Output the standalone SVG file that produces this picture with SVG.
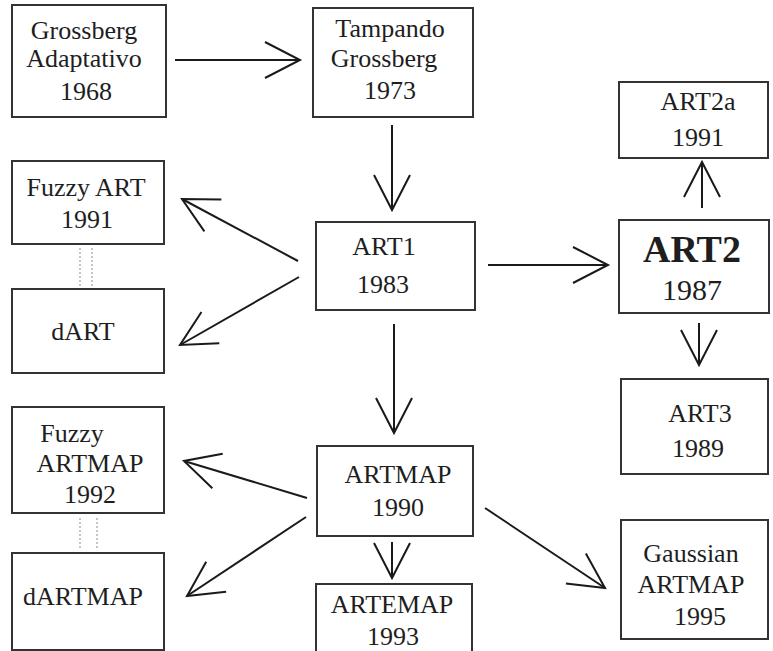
<svg xmlns="http://www.w3.org/2000/svg" width="773" height="651" viewBox="0 0 773 651">
  <defs>
    <!-- open V arrowhead -->
    <marker id="chevron" markerUnits="userSpaceOnUse" markerWidth="44" markerHeight="44" viewBox="-40 -22 44 44" refX="0" refY="0" orient="auto" overflow="visible">
      <path d="M-35,-18 L0,0 L-35,18" fill="none" stroke="#1a1a1a" stroke-width="2" stroke-linejoin="miter"/>
    </marker>
  </defs>
  <rect width="773" height="651" fill="#ffffff"/>

  <!-- nodes -->
  <g id="nodes" fill="#ffffff" stroke="#333333" stroke-width="2">
  <g id="grossberg-adaptativo">
    <rect x="12" y="5" width="154" height="112"/>
    <text stroke="none" fill="#1e1e1e" text-anchor="middle" font-family="Liberation Serif" font-size="26" x="84" y="39">Grossberg</text>
    <text stroke="none" fill="#1e1e1e" text-anchor="middle" font-family="Liberation Serif" font-size="26" x="84" y="67">Adaptativo</text>
    <text stroke="none" fill="#1e1e1e" text-anchor="middle" font-family="Liberation Serif" font-size="26" x="86" y="100">1968</text>
  </g>
  <g id="tampando-grossberg">
    <rect x="313" y="8" width="160" height="109"/>
    <text stroke="none" fill="#1e1e1e" text-anchor="middle" font-family="Liberation Serif" font-size="26" x="390" y="37">Tampando</text>
    <text stroke="none" fill="#1e1e1e" text-anchor="middle" font-family="Liberation Serif" font-size="26" x="384" y="67">Grossberg</text>
    <text stroke="none" fill="#1e1e1e" text-anchor="middle" font-family="Liberation Serif" font-size="26" x="390" y="99">1973</text>
  </g>
  <g id="art1">
    <rect x="316" y="222" width="159" height="88"/>
    <text stroke="none" fill="#1e1e1e" text-anchor="middle" font-family="Liberation Serif" font-size="26" x="384" y="255">ART1</text>
    <text stroke="none" fill="#1e1e1e" text-anchor="middle" font-family="Liberation Serif" font-size="26" x="383" y="293">1983</text>
  </g>
  <g id="art2a">
    <rect x="619" y="82" width="149" height="76"/>
    <text stroke="none" fill="#1e1e1e" text-anchor="middle" font-family="Liberation Serif" font-size="26" x="698" y="110">ART2a</text>
    <text stroke="none" fill="#1e1e1e" text-anchor="middle" font-family="Liberation Serif" font-size="26" x="698" y="146">1991</text>
  </g>
  <g id="art2">
    <rect x="619" y="220" width="150" height="93"/>
    <text stroke="none" fill="#1e1e1e" text-anchor="middle" font-family="Liberation Serif" font-size="38" font-weight="bold" x="692" y="262">ART2</text>
    <text stroke="none" fill="#1e1e1e" text-anchor="middle" font-family="Liberation Serif" font-size="30" x="692" y="300">1987</text>
  </g>
  <g id="art3">
    <rect x="621" y="379" width="147" height="95"/>
    <text stroke="none" fill="#1e1e1e" text-anchor="middle" font-family="Liberation Serif" font-size="26" x="700" y="422">ART3</text>
    <text stroke="none" fill="#1e1e1e" text-anchor="middle" font-family="Liberation Serif" font-size="26" x="698" y="457">1989</text>
  </g>
  <g id="fuzzy-art">
    <rect x="12" y="161" width="152" height="83"/>
    <text stroke="none" fill="#1e1e1e" text-anchor="middle" font-family="Liberation Serif" font-size="26" x="86" y="196">Fuzzy ART</text>
    <text stroke="none" fill="#1e1e1e" text-anchor="middle" font-family="Liberation Serif" font-size="26" x="87" y="228">1991</text>
  </g>
  <g id="dart">
    <rect x="12" y="289" width="152" height="84"/>
    <text stroke="none" fill="#1e1e1e" text-anchor="middle" font-family="Liberation Serif" font-size="26" x="83" y="340">dART</text>
  </g>
  <g id="fuzzy-artmap">
    <rect x="12" y="407" width="152" height="106"/>
    <text stroke="none" fill="#1e1e1e" text-anchor="middle" font-family="Liberation Serif" font-size="26" x="72" y="442">Fuzzy</text>
    <text stroke="none" fill="#1e1e1e" text-anchor="middle" font-family="Liberation Serif" font-size="26" x="90" y="472">ARTMAP</text>
    <text stroke="none" fill="#1e1e1e" text-anchor="middle" font-family="Liberation Serif" font-size="26" x="90" y="503">1992</text>
  </g>
  <g id="dartmap">
    <rect x="12" y="553" width="152" height="97"/>
    <text stroke="none" fill="#1e1e1e" text-anchor="middle" font-family="Liberation Serif" font-size="26" x="83" y="605">dARTMAP</text>
  </g>
  <g id="artmap">
    <rect x="317" y="446" width="156" height="90"/>
    <text stroke="none" fill="#1e1e1e" text-anchor="middle" font-family="Liberation Serif" font-size="26" x="398" y="483">ARTMAP</text>
    <text stroke="none" fill="#1e1e1e" text-anchor="middle" font-family="Liberation Serif" font-size="26" x="398" y="516">1990</text>
  </g>
  <g id="artemap">
    <rect x="316" y="584" width="156" height="72"/>
    <text stroke="none" fill="#1e1e1e" text-anchor="middle" font-family="Liberation Serif" font-size="26" x="392" y="613">ARTEMAP</text>
    <text stroke="none" fill="#1e1e1e" text-anchor="middle" font-family="Liberation Serif" font-size="26" x="393" y="645">1993</text>
  </g>
  <g id="gaussian-artmap">
    <rect x="621" y="520" width="147" height="119"/>
    <text stroke="none" fill="#1e1e1e" text-anchor="middle" font-family="Liberation Serif" font-size="26" x="691" y="562">Gaussian</text>
    <text stroke="none" fill="#1e1e1e" text-anchor="middle" font-family="Liberation Serif" font-size="26" x="691" y="593">ARTMAP</text>
    <text stroke="none" fill="#1e1e1e" text-anchor="middle" font-family="Liberation Serif" font-size="26" x="700" y="625">1995</text>
  </g>
  </g>

  <!-- dotted double links between variants -->
  <g id="links" stroke="#8a8a8a" stroke-width="1" stroke-dasharray="2 2">
    <line x1="80" y1="248" x2="80" y2="288"/>
    <line x1="92" y1="248" x2="92" y2="288"/>
    <line x1="80" y1="518" x2="80" y2="550"/>
    <line x1="97" y1="518" x2="97" y2="550"/>
  </g>

  <!-- connectors -->
  <g id="connectors" stroke="#1a1a1a" stroke-width="2" fill="none">
    <line x1="175" y1="60" x2="300" y2="60" marker-end="url(#chevron)"/>
    <line x1="392" y1="125" x2="392" y2="210" marker-end="url(#chevron)"/>
    <line x1="488" y1="265" x2="608" y2="265" marker-end="url(#chevron)"/>
    <line x1="298" y1="261" x2="182" y2="199" marker-end="url(#chevron)"/>
    <line x1="299" y1="277" x2="180" y2="345" marker-end="url(#chevron)"/>
    <line x1="394" y1="324" x2="394" y2="433" marker-end="url(#chevron)"/>
    <line x1="702" y1="208" x2="702" y2="162" marker-end="url(#chevron)"/>
    <line x1="699" y1="323" x2="699" y2="365" marker-end="url(#chevron)"/>
    <line x1="307" y1="498" x2="184" y2="461" marker-end="url(#chevron)"/>
    <line x1="306" y1="517" x2="187" y2="596" marker-end="url(#chevron)"/>
    <line x1="392" y1="542" x2="392" y2="578" marker-end="url(#chevron)"/>
    <line x1="485" y1="508" x2="605" y2="588" marker-end="url(#chevron)"/>
  </g>
</svg>
